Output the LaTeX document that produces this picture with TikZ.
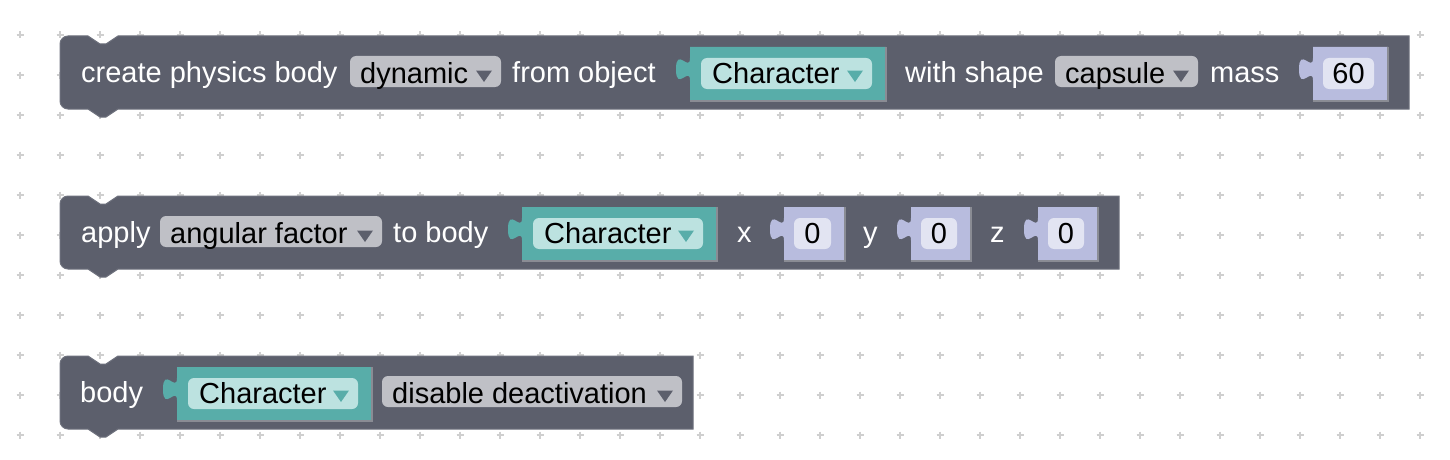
\documentclass[tikz,border=0pt]{standalone}
\usepackage{fontspec}
\setmainfont{Liberation Sans}
\usepackage{tikz}
\usepackage{xcolor}

\definecolor{blockgray}{HTML}{5C5F6C}
\definecolor{blockedge}{HTML}{6E717D}
\definecolor{ddgray}{HTML}{BFC0C6}
\definecolor{tealblock}{HTML}{58ADA9}
\definecolor{tealfield}{HTML}{BCE2E0}
\definecolor{numblock}{HTML}{B8BCDE}
\definecolor{numfield}{HTML}{E2E4F2}
\definecolor{gridplus}{HTML}{CFCFCF}
\definecolor{socketedge}{HTML}{8A8C94}

\tikzset{
  blocklabel/.style={anchor=base west,inner sep=0pt,text=white,font=\fontsize{29}{34}\selectfont},
  fieldtext/.style={anchor=base west,inner sep=0pt,text=black,font=\fontsize{29}{34}\selectfont},
  numtext/.style={anchor=base,inner sep=0pt,text=black,font=\fontsize{29}{34}\selectfont},
  gridmark/.style={draw=gridplus,line width=1.3pt},
  stmt/.style={fill=blockgray,draw=blockedge,line width=1pt},
  socketline/.style={draw=socketedge,line width=1.5pt}
}

\begin{document}
\begin{tikzpicture}[x=1pt,y=-1pt]
\useasboundingbox (0,0) rectangle (1450,460);
\fill[white] (0,0) rectangle (1450,460);
% grid
\foreach \x in {20,60,...,1420}
  \foreach \y in {35,75,...,435}
    \draw[gridmark] ({\x-3.5},\y)--({\x+3.5},\y) (\x,{\y-3.5})--(\x,{\y+3.5});
% statement blocks
\foreach \l/\t/\r in {60/36/1409,60/196/1119,60/356/693}
  \filldraw[stmt] (\l,\t+8) arc[start angle=180,end angle=270,radius=8]
    -- (\l+28,\t) -- (\l+40,\t+8) -- (\l+46,\t+8) -- (\l+58,\t) -- (\r,\t)
    -- (\r,\t+73) -- (\l+58,\t+73) -- (\l+46,\t+81) -- (\l+40,\t+81) -- (\l+28,\t+73)
    -- (\l+8,\t+73) arc[start angle=90,end angle=180,radius=8] -- cycle;
% labels
\foreach \n/\x/\y/\s in {create/81/82/create physics body,from/512/82/from object,
    with/905/82/with shape,mass/1210/82/mass,apply/81/242/apply,tobody/393/242/to body,
    x/737/242/x,y/863/242/y,z/990/242/z,body/80/402/body}
  \node[blocklabel] (lbl\n) at (\x,\y) {\s};
% dropdowns
\foreach \n/\l/\r/\t/\s in {dynamic/350/501/36/dynamic,capsule/1055/1198/36/capsule,
    angular/160/382/196/angular factor,disable/382/682/356/disable deactivation}{
  \fill[ddgray,rounded corners=6] (\l,\t+20) rectangle (\r,\t+51);
  \node[fieldtext] (dd\n) at (\l+10,\t+47) {\s};
  \fill[blockgray] (\r-25,\t+34.5) -- (\r-9,\t+34.5) -- (\r-17,\t+46) -- cycle;
}
% object sockets
\foreach \n/\l/\r/\t in {one/690/886/47,two/522/717/207,three/177/372/367}{
  \fill[tealblock] (\l,\t) -- (\l,\t+11) .. controls (\l,\t+26) and (\l-14,\t-1) .. (\l-14,\t+22.25)
    .. controls (\l-14,\t+45.5) and (\l,\t+18.5) .. (\l,\t+33.5) -- (\l,\t+54) -- (\r,\t+54) -- (\r,\t) -- cycle;
  \draw[socketline] (\l,\t+54) -- (\r,\t+54) -- (\r,\t);
  \fill[tealfield,rounded corners=6] (\l+11,\t+11) rectangle (\r-14,\t+42);
  \node[fieldtext] (obj\n) at (\l+22,\t+36) {Character};
  \fill[tealblock] (\r-39,\t+23.5) -- (\r-23,\t+23.5) -- (\r-31,\t+35) -- cycle;
}
% number sockets
\foreach \n/\l/\r/\t/\v in {mass/1313/1388/47/60,x/784/845/207/0,y/911/971/207/0,z/1038/1098/207/0}{
  \fill[numblock] (\l,\t) -- (\l,\t+11) .. controls (\l,\t+26) and (\l-14,\t-1) .. (\l-14,\t+22.25)
    .. controls (\l-14,\t+45.5) and (\l,\t+18.5) .. (\l,\t+33.5) -- (\l,\t+54) -- (\r,\t+54) -- (\r,\t) -- cycle;
  \draw[socketline] (\l,\t+54) -- (\r,\t+54) -- (\r,\t);
  \fill[numfield,rounded corners=6] (\l+10,\t+11) rectangle (\r-14,\t+42);
  \node[numtext] (num\n) at ({(\l+\r-4)/2},\t+36) {\v};
}
\end{tikzpicture}
\end{document}
